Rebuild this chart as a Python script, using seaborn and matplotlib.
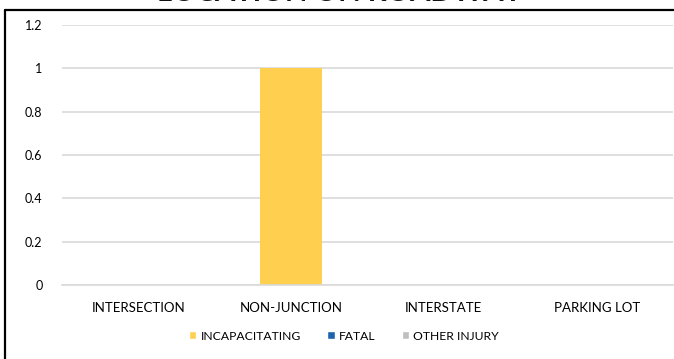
import matplotlib
matplotlib.use("Agg")
import matplotlib.pyplot as plt
from matplotlib.patches import Rectangle
from matplotlib.lines import Line2D
import seaborn as sns
import pandas as pd

# Injury counts by location on roadway
locations = ["INTERSECTION", "NON-JUNCTION", "INTERSTATE", "PARKING LOT"]
incapacitating = [0, 1, 0, 0]
fatal = [0, 0, 0, 0]
other_injury = [0, 0, 0, 0]
series_names = ["INCAPACITATING", "FATAL", "OTHER INJURY"]
series_colors = ["#FFD04F", "#1F63AD", "#BFBFBF"]
y_ticks = [0, 0.2, 0.4, 0.6, 0.8, 1, 1.2]
y_tick_labels = ["0", "0.2", "0.4", "0.6", "0.8", "1", "1.2"]

rows = []
for name, vals in zip(series_names, [incapacitating, fatal, other_injury]):
    for loc, v in zip(locations, vals):
        rows.append({"location": loc, "severity": name, "count": v})
df = pd.DataFrame(rows)

sns.set_theme(style="white")
plt.rcParams["font.family"] = ["Lato", "DejaVu Sans"]

W, H = 674, 359
fig = plt.figure(figsize=(W / 100, H / 100), dpi=100)
ax = fig.add_axes([62 / W, 1 - 285 / H, 611 / W, 260 / H])

sns.barplot(data=df, x="location", y="count", hue="severity",
            order=locations, hue_order=series_names,
            palette=dict(zip(series_names, series_colors)),
            dodge=False, width=0.41, saturation=1, linewidth=0,
            ax=ax, legend=False)

ax.set_ylim(0, 1.2)
ax.set_xlim(-0.5, len(locations) - 0.5)
ax.set_yticks(y_ticks)
ax.set_yticklabels(y_tick_labels)
ax.yaxis.grid(True, color="#D9D9D9", linewidth=1.2)
ax.set_axisbelow(True)
for s in ["top", "right", "left"]:
    ax.spines[s].set_visible(False)
ax.spines["bottom"].set_color("#D9D9D9")
ax.spines["bottom"].set_linewidth(1.2)
ax.tick_params(axis="both", length=0, colors="#000000")
ax.tick_params(axis="y", pad=14, labelsize=9)
ax.tick_params(axis="x", pad=12, labelsize=9.5)
ax.set_xlabel("")
ax.set_ylabel("")

handles = [Rectangle((0, 0), 1, 1, facecolor=c) for c in series_colors]
fig.legend(handles, series_names, loc="center", bbox_to_anchor=(344 / W, 1 - 336 / H),
           ncol=3, frameon=False, fontsize=8.7, handlelength=0.6, handleheight=0.6,
           handletextpad=0.35, columnspacing=2.2, labelcolor="#000000")

fig.text(340 / W, 1 + 7.5 / H, "LOCATION ON ROADWAY", ha="center", va="center",
         fontsize=21, fontweight="bold", color="#111111")

# Chart frame: top and left edges
fig.add_artist(Line2D([5 / W, 1.0], [1 - 10 / H, 1 - 10 / H], transform=fig.transFigure,
                      color="#000000", linewidth=1.6))
fig.add_artist(Line2D([5 / W, 5 / W], [0.0, 1 - 10 / H], transform=fig.transFigure,
                      color="#000000", linewidth=1.6))

fig.savefig("out.png", dpi=100)
